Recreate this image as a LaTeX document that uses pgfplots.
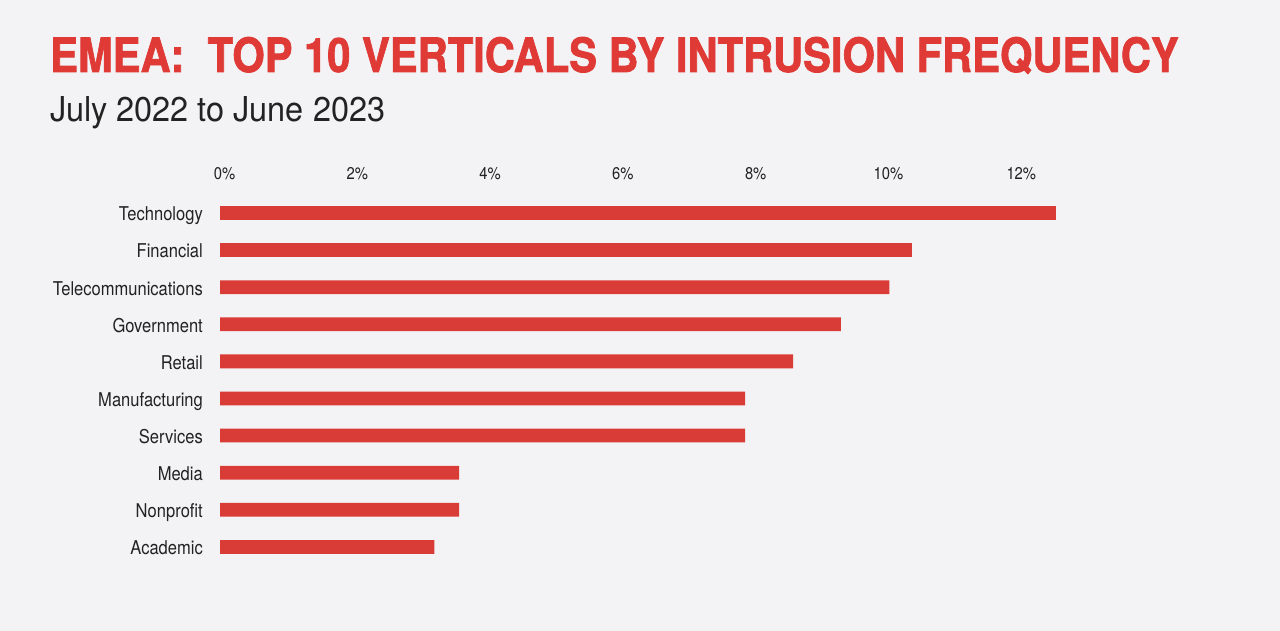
\documentclass[border=0pt]{standalone}
\usepackage{graphicx}
\usepackage{pgfplots}
\pgfplotsset{compat=1.18}
\usepackage{pgfplotstable}
\usepackage{fontspec}
\setmainfont{TeX Gyre Heros}
\newfontfamily\titlefont{TeX Gyre Heros}[FakeBold=1.6]
\newfontfamily\labelfont{TeX Gyre Heros}[FakeStretch=0.87]

\definecolor{bg}{HTML}{F3F3F5}
\definecolor{barred}{HTML}{D93C37}
\definecolor{titlered}{HTML}{DF3A36}
\definecolor{txt}{HTML}{222222}

% share of intrusions, %
\pgfplotstableread{
idx value
0 12.59
1 10.42
2 10.08
3 9.35
4 8.63
5 7.91
6 7.91
7 3.60
8 3.60
9 3.23
}\verticals

\begin{document}
\begin{tikzpicture}
\fill[bg] (0,0) rectangle (1280pt,631pt);

\node[anchor=base west, inner sep=0pt, text=titlered] at (50pt,559pt)
  {\resizebox{1128pt}{35pt}{\titlefont\bfseries EMEA:\ \ TOP 10 VERTICALS BY INTRUSION FREQUENCY}};
\node[anchor=base west, inner sep=0pt, text=txt] at (50pt,509pt)
  {\resizebox{335pt}{25pt}{July 2022 to June 2023}};

\begin{axis}[
    at={(220pt,65.55pt)}, anchor=south west,
    scale only axis,
    width=863.2pt, height=371pt,
    xmin=0, xmax=13,
    ymin=-0.5, ymax=9.5,
    y dir=reverse,
    xbar, bar width=13.8pt,
    axis line style={draw=none},
    major tick length=0pt,
    xtick={0,2,...,12},
    xticklabels={0\%,2\%,4\%,6\%,8\%,10\%,12\%},
    xticklabel pos=upper,
    ytick={0,...,9},
    yticklabels={Technology,Financial,Telecommunications,Government,Retail,
                 Manufacturing,Services,Media,Nonprofit,Academic},
    xticklabel style={anchor=south, inner sep=0pt, yshift=14.5pt, xshift=4.5pt,
                      font=\labelfont\fontsize{17}{20}\selectfont, text=txt},
    yticklabel style={anchor=east, inner sep=0pt, xshift=-17pt, yshift=-1pt,
                      text height=13.7pt, text depth=0pt,
                      font=\labelfont\fontsize{19}{22}\selectfont, text=txt},
    clip=false,
]
\addplot[fill=barred, draw=none] table[x=value, y=idx] {\verticals};
\end{axis}
\end{tikzpicture}
\end{document}
